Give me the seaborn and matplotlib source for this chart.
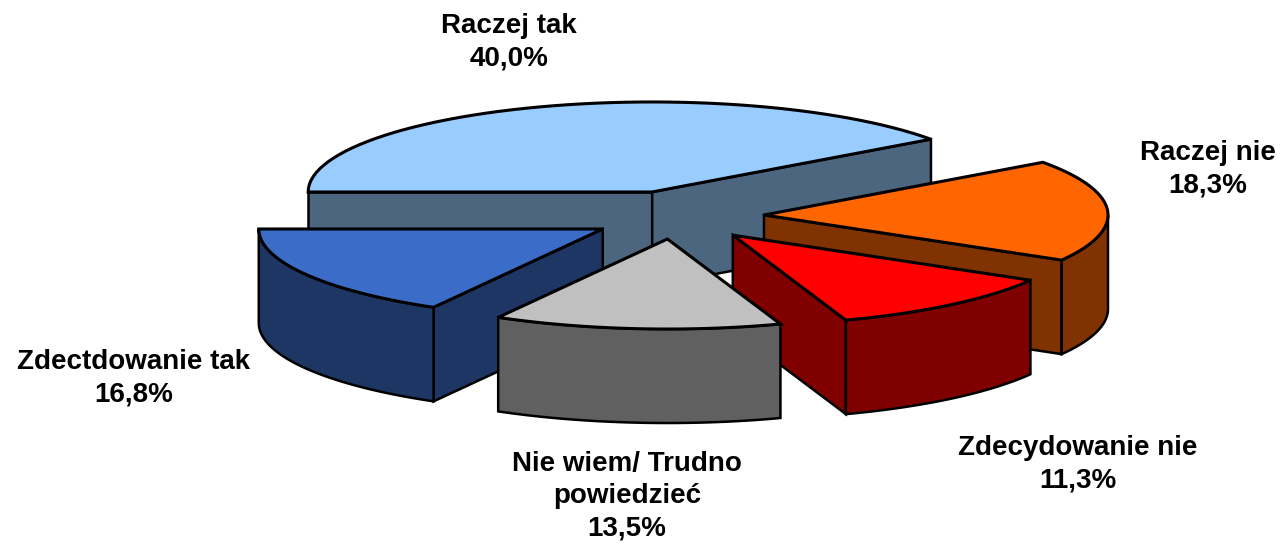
import numpy as np
import matplotlib
matplotlib.use('Agg')
import matplotlib.pyplot as plt
import seaborn as sns

# dane
labels = ['Raczej tak', 'Raczej nie', 'Zdecydowanie nie',
          'Nie wiem/ Trudno\npowiedzieć', 'Zdectdowanie tak']
values = [40.0, 18.3, 11.3, 13.5, 16.8]

top_colors = ['#99CCFF', '#FF6600', '#FF0000', '#C0C0C0', '#3B6CC7']
side_colors = ['#4D6680', '#803300', '#800000', '#606060', '#1E3664']

# wyglad kola 3D
center = (680, 215)
rx, ry = 344, 90
depth = 94
explode_x = [0.263, 0.2445, 0.241, 0.41, 0.26]
explode_y = [0.269, 0.0, 0.29, 0.268, 0.308]
label_pos = [(509, 42), (1208, 169), (1078, 464), (627, 496), (134, 378)]

sns.set_theme(style='white')
plt.rcParams['font.family'] = ['Liberation Sans', 'DejaVu Sans']

fig, ax = plt.subplots(figsize=(12.83, 5.45), dpi=100)
ax.set_position([0, 0, 1, 1])
ax.set_xlim(0, 1283)
ax.set_ylim(545, 0)
ax.axis('off')


def rim(apex, a1, a2, n=60):
    t = np.radians(np.linspace(a1, a2, n))
    return apex[0] + rx * np.cos(t), apex[1] - ry * np.sin(t)


def draw_slice(apex, a1, a2, top, side):
    ax1, ay1 = rim(apex, a1, a1, 1)
    ax2, ay2 = rim(apex, a2, a2, 1)
    kw = dict(facecolor=side, edgecolor='black', linewidth=1.8, joinstyle='miter')
    # boczne sciany widoczne tylko gdy sa zwrocone do widza
    if np.cos(np.radians(a1)) < -1e-6:
        ax.fill([apex[0], ax1[0], ax1[0], apex[0]],
                [apex[1], ay1[0], ay1[0] + depth, apex[1] + depth], **kw)
    if np.cos(np.radians(a2)) > 1e-6:
        ax.fill([apex[0], ax2[0], ax2[0], apex[0]],
                [apex[1], ay2[0], ay2[0] + depth, apex[1] + depth], **kw)
    # zewnetrzna sciana, tylko dolna czesc luku
    lo, hi = max(min(a1, a2), -180), min(max(a1, a2), 0)
    if hi > lo:
        x, y = rim(apex, lo, hi)
        ax.fill(np.r_[x, x[::-1]], np.r_[y, y[::-1] + depth], **kw)
    x, y = rim(apex, a1, a2)
    ax.fill(np.r_[apex[0], x], np.r_[apex[1], y], facecolor=top,
            edgecolor='black', linewidth=2.2, joinstyle='miter')


# katy liczone z udzialow, zgodnie z ruchem wskazowek od 180 stopni
sweep = np.array(values) / sum(values) * 360
starts = 180 - np.r_[0, np.cumsum(sweep)[:-1]]
ends = starts - sweep
mids = (starts + ends) / 2
apexes = [(center[0] + ex * rx * np.cos(np.radians(m)),
           center[1] - ey * ry * np.sin(np.radians(m)))
          for ex, ey, m in zip(explode_x, explode_y, mids)]

# od tylu do przodu
for i in [0, 1, 4, 2, 3]:
    draw_slice(apexes[i], starts[i], ends[i], top_colors[i], side_colors[i])

for lab, val, pos in zip(labels, values, label_pos):
    txt = f'{lab}\n{val:.1f}%'.replace('.', ',')
    ax.text(pos[0], pos[1], txt, ha='center', va='center', fontsize=20,
            fontweight='bold', color='black', linespacing=1.31)

fig.savefig('out.png', dpi=100)
